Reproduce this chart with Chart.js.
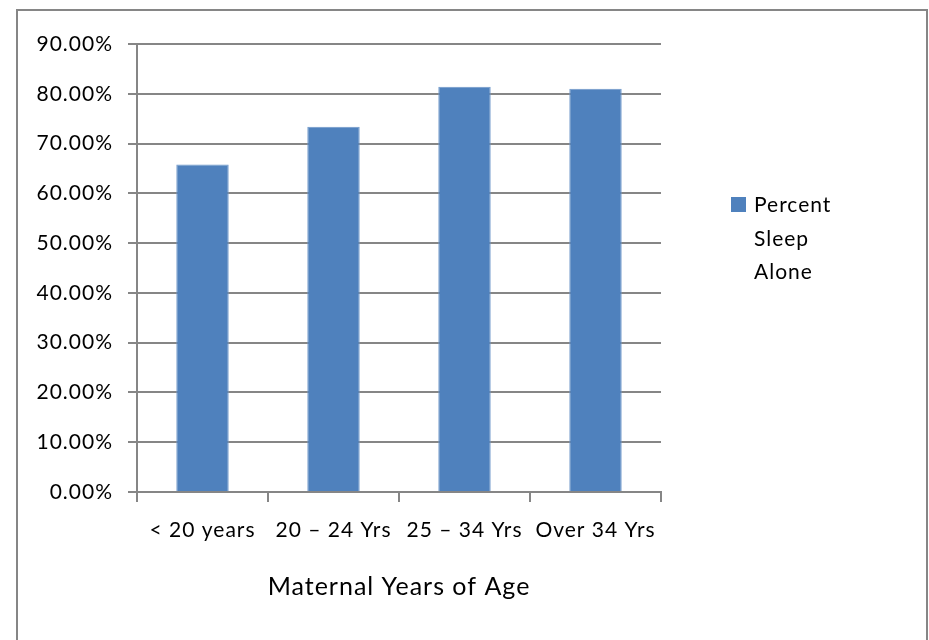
<!DOCTYPE html>
<html>
<head>
<meta charset="utf-8">
<script src="https://cdn.jsdelivr.net/npm/chart.js@4/dist/chart.umd.min.js"></script>
<style>
  html, body { margin: 0; padding: 0; background: #fff; }
  #wrap { position: relative; width: 929px; height: 640px; overflow: hidden; }
  #frame { position: absolute; left: 16px; top: 9px; width: 908px; height: 660px; border: 2px solid #868686; }
  canvas { position: absolute; left: 0; top: 0; }
</style>
</head>
<body>
<div id="wrap">
  <div id="frame"></div>
  <canvas id="myChart" width="929" height="640"></canvas>
</div>
<script>
var categories = ["< 20 years", "20 \u2013 24 Yrs", "25 \u2013 34 Yrs", "Over 34 Yrs"];
var sleepAlone = [65.8, 73.4, 81.4, 81.0];
var seriesName = "Percent Sleep Alone";
var axisTitle = "Maternal Years of Age";

var gridColor = "#868686";
var barColor = "#4F81BD";
var fontFamily = "Lato, 'DejaVu Sans', sans-serif";

// the original text is set a little loose, so widen the letter spacing
var looseText = {
    id: "looseText",
    beforeUpdate: function (chart) { chart.ctx.letterSpacing = "1px"; },
    beforeDraw: function (chart) { chart.ctx.letterSpacing = "1px"; }
};

// legend drawn by hand so the label can wrap onto three lines like the original
var wrapLegend = {
    id: "wrapLegend",
    afterDraw: function (chart) {
        var c = chart.ctx;
        var ds = chart.data.datasets[0];
        var words = ds.label.split(" ");
        c.save();
        c.fillStyle = ds.backgroundColor;
        c.fillRect(731, 197, 15, 15);
        c.fillStyle = "#000";
        c.font = "21px " + fontFamily;
        c.textBaseline = "alphabetic";
        c.textAlign = "left";
        words.forEach(function (w, i) {
            c.fillText(w, 754, 212 + i * 33.5);
        });
        c.restore();
    }
};

var ctx = document.getElementById("myChart").getContext("2d");
var myChart = new Chart(ctx, {
    type: "bar",
    data: {
        labels: categories,
        datasets: [
            {
                label: seriesName,
                data: sleepAlone,
                backgroundColor: barColor,
                borderColor: "#6d97c9",
                borderWidth: 1,
                barPercentage: 0.4,
                categoryPercentage: 1.0
            }
        ]
    },
    options: {
        responsive: false,
        animation: false,
        layout: {
            padding: { top: 44, right: 268, bottom: 0, left: 0 }
        },
        plugins: {
            legend: { display: false },
            tooltip: { enabled: false }
        },
        scales: {
            x: {
                afterFit: function (scale) { scale.height = 148; },
                grid: {
                    offset: true,
                    drawOnChartArea: false,
                    drawTicks: true,
                    tickLength: 10,
                    color: gridColor,
                    lineWidth: 2
                },
                border: { display: true, color: gridColor, width: 2 },
                ticks: {
                    color: "#000",
                    padding: 16,
                    maxRotation: 0,
                    autoSkip: false,
                    font: { family: fontFamily, size: 21 }
                },
                title: {
                    display: true,
                    text: axisTitle,
                    color: "#000",
                    padding: { top: 0, bottom: 38 },
                    font: { family: fontFamily, size: 25 }
                }
            },
            y: {
                min: 0,
                max: 90,
                afterFit: function (scale) { scale.width = 137; },
                grid: {
                    color: gridColor,
                    lineWidth: 2,
                    drawTicks: true,
                    tickLength: 9
                },
                border: { display: true, color: gridColor, width: 2 },
                ticks: {
                    stepSize: 10,
                    color: "#000",
                    padding: 15,
                    font: { family: fontFamily, size: 21 },
                    callback: function (v) { return v.toFixed(2) + "%"; }
                }
            }
        }
    },
    plugins: [looseText, wrapLegend]
});
</script>
</body>
</html>
